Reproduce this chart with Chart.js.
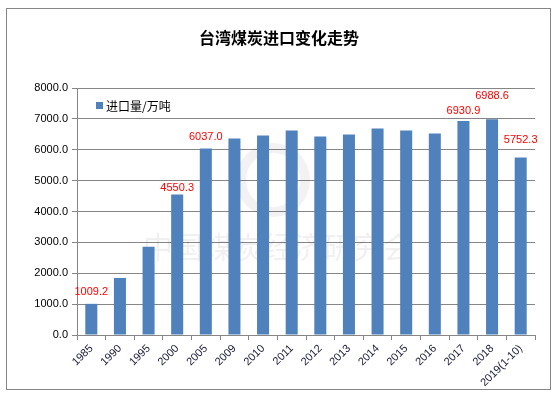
<!DOCTYPE html>
<html>
<head>
<meta charset="utf-8">
<script src="https://cdn.jsdelivr.net/npm/chart.js@4.4.0/dist/chart.umd.min.js"></script>
<style>
  body { margin: 0; background: #fff; }
  #wrap { position: relative; width: 559px; height: 396px; }
</style>
</head>
<body>
<div id="wrap"><canvas id="chart1" width="559" height="396"></canvas></div>
<script>
const years = ['1985', '1990', '1995', '2000', '2005', '2009', '2010', '2011', '2012',
  '2013', '2014', '2015', '2016', '2017', '2018', '2019(1-10)'];
const imports = [1009.2, 1848, 2858, 4550.3, 6037.0, 6365, 6461, 6623, 6429,
  6494, 6687, 6623, 6526, 6930.9, 6988.6, 5752.3];
const labeled = ['1985', '2000', '2005', '2017', '2018', '2019(1-10)'];
const yTicks = [0, 1000, 2000, 3000, 4000, 5000, 6000, 7000, 8000];

// extra lift of the red value labels (px), per labeled bar
const labelLift = { '1985': 12, '2000': 7, '2005': 12, '2017': 10, '2018': 23, '2019(1-10)': 17 };

const cjk = '"Noto Sans CJK SC", "Noto Sans", sans-serif';
const num = '"Liberation Sans", Arial, sans-serif';

const extras = {
  id: 'extras',
  beforeDatasetsDraw(chart) {
    const c = chart.ctx;
    c.save();
    // faint watermark
    c.strokeStyle = 'rgba(0,0,0,0.05)';
    c.lineWidth = 10;
    c.beginPath();
    c.arc(273, 180, 32, 0, Math.PI * 2);
    c.stroke();
    c.fillStyle = 'rgba(0,0,0,0.06)';
    c.font = '30px ' + cjk;
    c.textAlign = 'center';
    c.textBaseline = 'middle';
    c.fillText('中国煤炭经济研究会', 278, 247);
    c.restore();
  },
  afterDraw(chart) {
    const c = chart.ctx;
    c.save();
    // outer frame
    c.strokeStyle = '#868686';
    c.lineWidth = 1;
    c.strokeRect(6.5, 8.5, 544, 381);
    // title
    c.fillStyle = '#000';
    c.font = 'bold 16px ' + cjk;
    c.textAlign = 'center';
    c.textBaseline = 'middle';
    c.fillText('台湾煤炭进口变化走势', 279, 38);
    // legend
    c.fillStyle = '#4f81bd';
    c.fillRect(96, 102, 7, 7);
    c.fillStyle = '#000';
    c.font = '12px ' + cjk;
    c.textAlign = 'left';
    c.fillText(chart.data.datasets[0].label, 106, 106);
    // value labels
    const meta = chart.getDatasetMeta(0);
    c.fillStyle = '#ff0000';
    c.font = '11px ' + num;
    c.textAlign = 'center';
    meta.data.forEach((bar, i) => {
      const yr = years[i];
      if (!labeled.includes(yr)) return;
      c.fillText(imports[i].toFixed(1), bar.x, bar.y - labelLift[yr]);
    });
    c.restore();
  }
};

new Chart(document.getElementById('chart1').getContext('2d'), {
  type: 'bar',
  data: {
    labels: years,
    datasets: [{
      label: '进口量/万吨',
      data: imports,
      backgroundColor: '#4f81bd',
      barPercentage: 0.42,
      categoryPercentage: 1
    }]
  },
  options: {
    responsive: false,
    animation: false,
    layout: { padding: { top: 88, right: 24, left: 0, bottom: 0 } },
    plugins: {
      legend: { display: false },
      title: { display: false },
      tooltip: { enabled: false }
    },
    scales: {
      x: {
        afterFit: s => { s.height = 61; },
        grid: {
          display: true,
          drawOnChartArea: false,
          drawTicks: true,
          tickLength: 5,
          offset: true,
          color: '#868686'
        },
        border: { color: '#868686' },
        ticks: {
          minRotation: 45,
          maxRotation: 45,
          autoSkip: false,
          color: '#1a1a3a',
          font: { size: 11, family: num },
          padding: 2
        }
      },
      y: {
        min: 0,
        max: 8000,
        afterFit: s => { s.width = 77; },
        afterBuildTicks: s => { s.ticks = yTicks.map(v => ({ value: v })); },
        grid: { color: '#868686', tickLength: 5 },
        border: { color: '#868686' },
        ticks: {
          color: '#000',
          font: { size: 11, family: num },
          padding: 4,
          callback: v => v.toFixed(1)
        }
      }
    }
  },
  plugins: [extras]
});
</script>
</body>
</html>
